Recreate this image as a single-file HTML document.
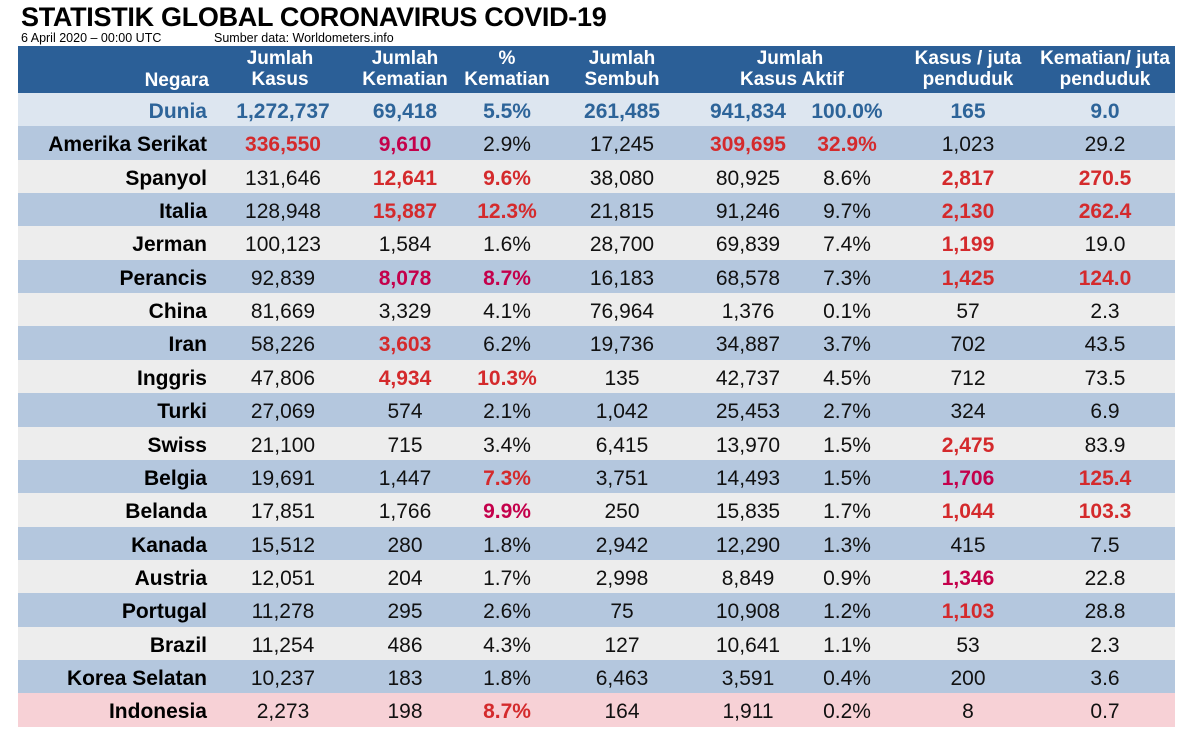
<!DOCTYPE html>
<html><head><meta charset="utf-8">
<style>
body{margin:0;width:1200px;height:731px;background:#fff;font-family:"Liberation Sans",sans-serif;position:relative;overflow:hidden}
#title{position:absolute;left:21px;top:2px;font-size:27px;font-weight:bold;color:#000;letter-spacing:-0.3px}
.sub{position:absolute;top:31px;font-size:12.5px;color:#000}
#hdr{position:absolute;left:18px;top:46px;width:1157px;height:47px;background:#2b5f97}
.h{position:absolute;color:#fff;font-weight:bold;font-size:19px;line-height:21px;text-align:center;white-space:nowrap}
.row{position:absolute;left:18px;width:1157px;height:34px}
.c{position:absolute;top:2px;font-size:21px;line-height:34px;white-space:nowrap;transform:translateX(-50%)}
.n{position:absolute;top:2px;right:968px;font-size:21px;line-height:34px;font-weight:bold;white-space:nowrap}
</style></head><body>
<div id="title">STATISTIK GLOBAL CORONAVIRUS COVID-19</div>
<div class="sub" style="left:21px">6 April 2020 – 00:00 UTC</div>
<div class="sub" style="left:214px">Sumber data: Worldometers.info</div>
<div id="hdr">
<div class="h" style="right:966px;top:24px;text-align:right">Negara</div>
<div class="h" style="left:212px;width:100px;top:2px">Jumlah<br>Kasus</div>
<div class="h" style="left:337px;width:100px;top:2px">Jumlah<br>Kematian</div>
<div class="h" style="left:439px;width:100px;top:2px">%<br>Kematian</div>
<div class="h" style="left:554px;width:100px;top:2px">Jumlah<br>Sembuh</div>
<div class="h" style="left:722px;width:100px;top:2px">Jumlah<br>Kasus Aktif</div>
<div class="h" style="left:890px;width:120px;top:2px">Kasus / juta<br>penduduk</div>
<div class="h" style="left:1022px;width:130px;top:2px">Kematian/ juta<br>penduduk</div>
</div>
<script>
const countries=["Dunia","Amerika Serikat","Spanyol","Italia","Jerman","Perancis","China","Iran","Inggris","Turki","Swiss","Belgia","Belanda","Kanada","Austria","Portugal","Brazil","Korea Selatan","Indonesia"];
const kasus=["1,272,737","336,550","131,646","128,948","100,123","92,839","81,669","58,226","47,806","27,069","21,100","19,691","17,851","15,512","12,051","11,278","11,254","10,237","2,273"];
const kematian=["69,418","9,610","12,641","15,887","1,584","8,078","3,329","3,603","4,934","574","715","1,447","1,766","280","204","295","486","183","198"];
const pctKematian=["5.5%","2.9%","9.6%","12.3%","1.6%","8.7%","4.1%","6.2%","10.3%","2.1%","3.4%","7.3%","9.9%","1.8%","1.7%","2.6%","4.3%","1.8%","8.7%"];
const sembuh=["261,485","17,245","38,080","21,815","28,700","16,183","76,964","19,736","135","1,042","6,415","3,751","250","2,942","2,998","75","127","6,463","164"];
const aktif=["941,834","309,695","80,925","91,246","69,839","68,578","1,376","34,887","42,737","25,453","13,970","14,493","15,835","12,290","8,849","10,908","10,641","3,591","1,911"];
const pctAktif=["100.0%","32.9%","8.6%","9.7%","7.4%","7.3%","0.1%","3.7%","4.5%","2.7%","1.5%","1.5%","1.7%","1.3%","0.9%","1.2%","1.1%","0.4%","0.2%"];
const kasusJuta=["165","1,023","2,817","2,130","1,199","1,425","57","702","712","324","2,475","1,706","1,044","415","1,346","1,103","53","200","8"];
const kematianJuta=["9.0","29.2","270.5","262.4","19.0","124.0","2.3","43.5","73.5","6.9","83.9","125.4","103.3","7.5","22.8","28.8","2.3","3.6","0.7"];
// highlight codes per column: r=red, c=crimson, ''=normal
const hlKasus=["","r","","","","","","","","","","","","","","","","",""];
const hlKematian=["","c","r","r","","c","","r","r","","","","","","","","","",""];
const hlPct=["","","r","r","","c","","","r","","","r","c","","","","","","r"];
const hlAktif=["","r","","","","","","","","","","","","","","","","",""];
const hlPctAktif=["","r","","","","","","","","","","","","","","","","",""];
const hlKJ=["","","r","r","r","r","","","","","r","c","r","","c","r","","",""];
const hlMJ=["","","r","r","","r","","","","","","r","r","","","","","",""];
const cols=[[kasus,hlKasus,265],[kematian,hlKematian,387],[pctKematian,hlPct,489],[sembuh,null,604],[aktif,hlAktif,730],[pctAktif,hlPctAktif,829],[kasusJuta,hlKJ,950],[kematianJuta,hlMJ,1087]];
const colNames=["kasus","kematian","persen-kematian","sembuh","kasus-aktif","persen-aktif","kasus-per-juta","kematian-per-juta"];
const colorMap={r:"#d42a2c",c:"#c4004b"};
countries.forEach((name,i)=>{
  const row=document.createElement('div');
  row.className='row';
  row.style.top=(93+i*33.35)+'px';
  let bg=i===0?'#dde6f0':(i%2===1?'#b4c7de':'#ededed');
  if(name==='Indonesia')bg='#f7d1d6';
  row.style.background=bg;
  
  
  const n=document.createElement('div');
  n.className='n';
  n.textContent=name;
  n.style.color=i===0?'#2d6499':'#000';
  
  
  row.appendChild(n);
  cols.forEach((c,j)=>{
    const d=document.createElement('div');
    d.className='c';
    d.textContent=c[0][i];
    d.style.left=c[2]+'px';
    const h=c[1]?c[1][i]:'';
    if(i===0){d.style.color='#2d6499';d.style.fontWeight='bold';}
    else if(h){d.style.color=colorMap[h];d.style.fontWeight='bold';}
    else d.style.color='#111';
    
    
    row.appendChild(d);
  });
  document.body.appendChild(row);
});
</script>
</body></html>
